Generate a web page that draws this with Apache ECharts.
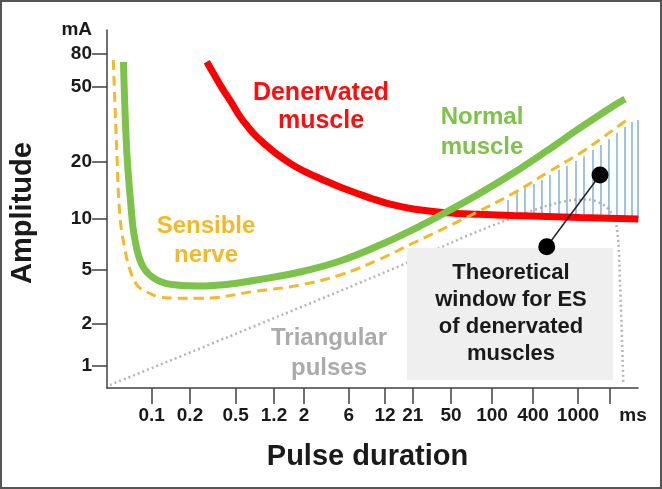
<!DOCTYPE html>
<html><head><meta charset="utf-8">
<script src="https://cdn.jsdelivr.net/npm/echarts@6/dist/echarts.min.js"></script>
<style>html,body{margin:0;padding:0;background:#fff}#c{width:662px;height:489px}</style>
</head><body><div id="c"></div>
<script>
// ---------- data (real units: pulse duration in ms, amplitude in mA) ----------
const xTickValues = [0.1, 0.2, 0.5, 1.2, 2, 6, 12, 21, 50, 100, 400, 1000, 2000];
const xTickLabels = ['0.1', '0.2', '0.5', '1.2', '2', '6', '12', '21', '50', '100', '400', '1000', ''];
const yTickValues = [1, 2, 5, 10, 20, 50, 80];
const yTickLabels = ['1', '2', '5', '10', '20', '50', '80'];
const xUnit = 'ms';
const yUnit = 'mA';

const normalMuscle = [[0.060,70.8],[0.0636,23.1],[0.0688,11.5],[0.0739,7.47],[0.0854,5.23],[0.11,4.21],[0.157,3.86],[0.244,3.80],[0.446,3.93],[0.808,4.21],[1.87,4.83],[4.84,5.64],[10.9,6.99],[24.8,9.02],[48.9,11.07],[81.6,13.6],[206,17.4],[529,22.8],[1044,30.2],[2148,39.5],[2768,43.0]];
const sensibleNerve = [[0.0499,72.8],[0.0531,23.1],[0.0563,10.2],[0.0617,6.54],[0.0675,5.0],[0.0766,3.86],[0.0913,3.43],[0.116,3.14],[0.148,3.09],[0.244,3.07],[0.808,3.48],[1.87,3.86],[4.84,4.59],[10.9,5.79],[21.3,7.18],[61.5,9.91],[206,13.6],[529,17.4],[1044,22.2],[2148,29.5],[2871,33.3]];
const denervatedMuscle = [[0.28,71.1],[0.33,58.1],[0.39,48.0],[0.455,41.5],[0.552,34.7],[0.662,30.6],[0.808,27.1],[1.17,22.8],[1.58,19.6],[2.10,17.6],[3.21,16.0],[4.84,14.67],[6.99,13.6],[9.54,12.67],[13.3,11.9],[21.3,11.2],[45.4,10.7],[81.6,10.5],[206,10.35],[1044,10.1],[3692,9.9]];
const triangularPulses = [[0.047,0.735],[0.693,1.853],[16.2,5.28],[65.2,7.89],[461,11.34],[794,12.36],[1207,12.59],[1611,12.06],[2000,10.94],[2312,8.93],[2484,4.0],[2668,0.759]];
// theoretical ES window: [duration, lower amplitude, upper amplitude]
const esWindow = [[172,10.37,12.5],[233,10.35,13.8],[305,10.31,14.5],[408,10.29,15.2],[480,10.25,16.0],[565,10.22,17.0],[679,10.18,18.1],[799,10.16,19.0],[960,10.12,20.2],[1139,10.10,21.4],[1384,10.07,23.1],[1646,10.05,24.5],[1956,10.02,26.4],[2327,10.0,28.4],[2768,9.96,30.6],[3221,9.95,32.5],[3668,9.93,33.3]];
const calloutLine = [[1611,17.0],[529,6.83]];

// ---------- layout (schematic axis: tick positions in px from the axis origin) ----------
const xTickPos = [44.7, 83, 128.7, 167, 197, 241.7, 278, 305.7, 344, 385, 426, 471, 503];
const yTickPos = [22, 64.7, 118, 169.7, 226.3, 301.3, 334.7];
const X_MAX = 531, Y_MAX = 358, X_UNIT_POS = 526, Y_UNIT_POS = 358;

function scaleLog(v, vals, pos) {
  const l = Math.log10(v), L = vals.map(Math.log10);
  let i = 0;
  if (l >= L[L.length - 1]) i = L.length - 2;
  else if (l > L[0]) { while (l > L[i + 1]) i++; }
  return pos[i] + (l - L[i]) * (pos[i + 1] - pos[i]) / (L[i + 1] - L[i]);
}
const sx = v => scaleLog(v, xTickValues, xTickPos);
const sy = v => scaleLog(v, yTickValues, yTickPos);
const pts = arr => arr.map(p => [sx(p[0]), sy(p[1])]);

function labelFor(val, pos, labels, unitPos, unit) {
  if (Math.abs(val - unitPos) < 0.5) return unit;
  for (let i = 0; i < pos.length; i++) if (Math.abs(val - pos[i]) < 0.5) return labels[i];
  return '';
}

const FONT = '"Liberation Sans", Arial, sans-serif';
const chart = echarts.init(document.getElementById('c'), null, {renderer: 'canvas'});
chart.setOption({
  animation: false,
  backgroundColor: '#ffffff',
  grid: {left: 107, right: 24, top: 30, bottom: 101, containLabel: false, outerBoundsMode: 'none'},
  xAxis: {
    type: 'value', min: 0, max: X_MAX,
    name: 'Pulse duration', nameLocation: 'middle', nameGap: 54,
    nameTextStyle: {fontFamily: FONT, fontWeight: 'bold', fontSize: 29, color: '#1a1a1a', padding: [0, 10, 0, 0]},
    axisLine: {show: true, lineStyle: {color: '#404040', width: 1.5}},
    axisTick: {show: true, inside: false, length: 16, customValues: xTickPos, lineStyle: {color: '#404040', width: 1.5}},
    axisLabel: {show: true, margin: 18, customValues: xTickPos.concat([X_UNIT_POS]),
      formatter: v => labelFor(v, xTickPos, xTickLabels, X_UNIT_POS, xUnit),
      fontFamily: FONT, fontWeight: 'bold', fontSize: 19, color: '#1a1a1a'},
    splitLine: {show: false}
  },
  yAxis: {
    type: 'value', min: 0, max: Y_MAX,
    name: 'Amplitude', nameLocation: 'middle', nameGap: 70, nameRotate: 90,
    nameTextStyle: {fontFamily: FONT, fontWeight: 'bold', fontSize: 29, color: '#1a1a1a', padding: [0, 8, 0, 0]},
    axisLine: {show: true, lineStyle: {color: '#404040', width: 1.5}},
    axisTick: {show: true, inside: false, length: 15, customValues: yTickPos, lineStyle: {color: '#404040', width: 1.5}},
    axisLabel: {show: true, margin: 15, customValues: yTickPos.concat([Y_UNIT_POS]),
      formatter: v => labelFor(v, yTickPos, yTickLabels, Y_UNIT_POS, yUnit),
      fontFamily: FONT, fontWeight: 'bold', fontSize: 19, color: '#1a1a1a'},
    splitLine: {show: false}
  },
  graphic: [
    {type: 'rect', z: 2, shape: {x: 407, y: 248, width: 206, height: 132}, style: {fill: '#efefef'}},
    {type: 'text', z: 20, style: {text: 'Theoretical\nwindow for ES\nof denervated\nmuscles', x: 511, y: 313, align: 'center', verticalAlign: 'middle', lineHeight: 27, fontFamily: FONT, fontWeight: 'bold', fontSize: 22, fill: '#1a1a1a'}},
    {type: 'text', z: 20, style: {text: 'Denervated\nmuscle', x: 321, y: 107, align: 'center', verticalAlign: 'middle', lineHeight: 28, fontFamily: FONT, fontWeight: 'bold', fontSize: 25, fill: '#ff0d0d'}},
    {type: 'text', z: 20, style: {text: 'Normal\nmuscle', x: 482, y: 132, align: 'center', verticalAlign: 'middle', lineHeight: 30, fontFamily: FONT, fontWeight: 'bold', fontSize: 24, fill: '#7dc24a'}},
    {type: 'text', z: 20, style: {text: 'Sensible\nnerve', x: 206, y: 241, align: 'center', verticalAlign: 'middle', lineHeight: 29, fontFamily: FONT, fontWeight: 'bold', fontSize: 24, fill: '#f6b826'}},
    {type: 'text', z: 20, style: {text: 'Triangular\npulses', x: 329, y: 353, align: 'center', verticalAlign: 'middle', lineHeight: 30, fontFamily: FONT, fontWeight: 'bold', fontSize: 24, fill: '#ababab'}},
    {type: 'rect', z: 30, shape: {x: 1, y: 1, width: 660, height: 487}, style: {fill: 'none', stroke: '#555555', lineWidth: 2}}
  ],
  series: [
    {name: 'Triangular pulses', type: 'line', z: 1, data: pts(triangularPulses), smooth: 0.35, symbol: 'none',
      lineStyle: {color: '#b5b5b5', width: 2.5, type: [2, 3]}},
    {name: 'ES window', type: 'custom', z: 3, data: esWindow.map(d => [sx(d[0]), sy(d[1]), sy(d[2])]),
      encode: {x: 0, y: [1, 2]},
      renderItem: (params, api) => {
        const a = api.coord([api.value(0), api.value(1)]);
        const b = api.coord([api.value(0), api.value(2)]);
        return {type: 'line', shape: {x1: a[0], y1: a[1], x2: b[0], y2: b[1]}, style: {stroke: '#6fa3d6', lineWidth: 1.3}};
      }},
    {name: 'Denervated muscle', type: 'line', z: 4, data: pts(denervatedMuscle), smooth: 0.4, symbol: 'none',
      lineStyle: {color: '#ff0000', width: 7}},
    {name: 'Sensible nerve', type: 'line', z: 5, data: pts(sensibleNerve), smooth: 0.4, symbol: 'none',
      lineStyle: {color: '#f6b826', width: 3, type: [10, 6]}},
    {name: 'Normal muscle', type: 'line', z: 6, data: pts(normalMuscle), smooth: 0.4, symbol: 'none',
      lineStyle: {color: '#7dc24a', width: 7}},
    {name: 'callout', type: 'line', z: 7, data: pts(calloutLine), symbol: 'circle', symbolSize: 17,
      itemStyle: {color: '#000000'}, lineStyle: {color: '#222222', width: 1.5}}
  ]
});
</script></body></html>
